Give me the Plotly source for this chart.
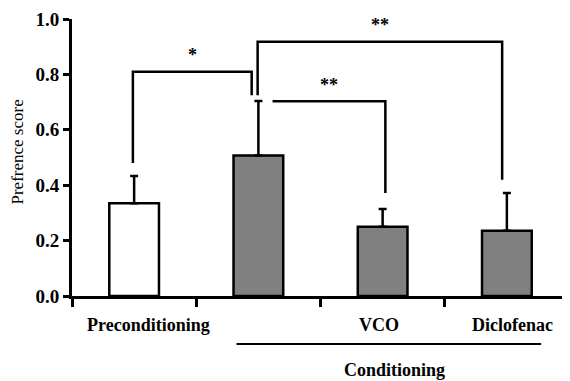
import plotly.graph_objects as go

categories = ["Preconditioning", "Control", "VCO", "Diclofenac"]
tick_labels = ["Preconditioning", "", "VCO", "Diclofenac"]
values = [0.335, 0.507, 0.25, 0.236]
errors = [0.098, 0.197, 0.064, 0.136]
bar_colors = ["#ffffff", "#808080", "#808080", "#808080"]
y_ticks = [0.0, 0.2, 0.4, 0.6, 0.8, 1.0]

# significance brackets: (x_left, x_right, y_left_end, y_top, y_right_end, label)
brackets = [
    (-0.01, 0.946, 0.48, 0.81, 0.725, "*"),
    (0.994, 2.962, 0.725, 0.918, 0.42, "**"),
    (1.114, 2.022, 0.703, 0.703, 0.372, "**"),
]

FONT = "Liberation Serif"

fig = go.Figure()
fig.add_trace(go.Bar(
    x=categories, y=values, width=0.4,
    marker=dict(color=bar_colors, line=dict(color="black", width=2.5)),
    error_y=dict(type="data", symmetric=False, array=errors,
                 arrayminus=[0] * len(errors), color="black",
                 thickness=2.5, width=4),
    showlegend=False,
))

shapes = []
annotations = []
for x0, x1, yl, yt, yr, lab in brackets:
    shapes.append(dict(type="path", xref="x", yref="y",
                       path=f"M {x0} {yl} L {x0} {yt} L {x1} {yt} L {x1} {yr}",
                       line=dict(color="black", width=2.5)))
    annotations.append(dict(x=(x0 + x1) / 2, y=yt + 0.06, xref="x", yref="y",
                            text=f"<b>{lab}</b>", showarrow=False,
                            font=dict(family=FONT, size=18, color="black"),
                            yanchor="middle"))

label_shift = [14, 0, -4, 6]
for i, lab in enumerate(tick_labels):
    if lab:
        annotations.append(dict(x=i, y=0, xref="x", yref="paper", text=f"<b>{lab}</b>",
                                showarrow=False, yanchor="middle", yshift=-29,
                                xshift=label_shift[i],
                                font=dict(family=FONT, size=18, color="black")))

# Conditioning group line and label
shapes.append(dict(type="line", xref="paper", yref="paper", ysizemode="pixel",
                   yanchor=0, x0=0.331, x1=0.944, y0=-48, y1=-48,
                   line=dict(color="black", width=2)))
annotations.append(dict(x=0.649, y=0, xref="paper", yref="paper", text="<b>Conditioning</b>",
                        showarrow=False, yanchor="middle", yshift=-74,
                        font=dict(family=FONT, size=18, color="black")))
annotations.append(dict(x=0, y=0.5, xref="paper", yref="paper", text="Prefrence score",
                        showarrow=False, textangle=-90, xanchor="center", xshift=-55,
                        yshift=5,
                        font=dict(family=FONT, size=17, color="black")))

fig.update_layout(
    width=562, height=373,
    margin=dict(l=64, r=1, t=8, b=85),
    paper_bgcolor="white", plot_bgcolor="white",
    shapes=shapes, annotations=annotations,
    xaxis=dict(type="category", range=[-0.5, 3.5], showline=True, linecolor="black",
               linewidth=3, ticks="outside", tickson="boundaries", ticklen=8,
               tickwidth=3, tickcolor="black", showticklabels=False,
               showgrid=False, zeroline=False),
    yaxis=dict(range=[0, 1.0], showline=True, linecolor="black", linewidth=3,
               ticks="outside", ticklen=6, tickwidth=3, tickcolor="black",
               tickvals=y_ticks, ticktext=[f"<b>{v:.1f}</b>" for v in y_ticks],
               ticklabeloverflow="allow",
               tickfont=dict(family=FONT, size=19, color="black"),
               showgrid=False, zeroline=False),
    font=dict(family=FONT, color="black"),
)

fig.write_html("out.html")
